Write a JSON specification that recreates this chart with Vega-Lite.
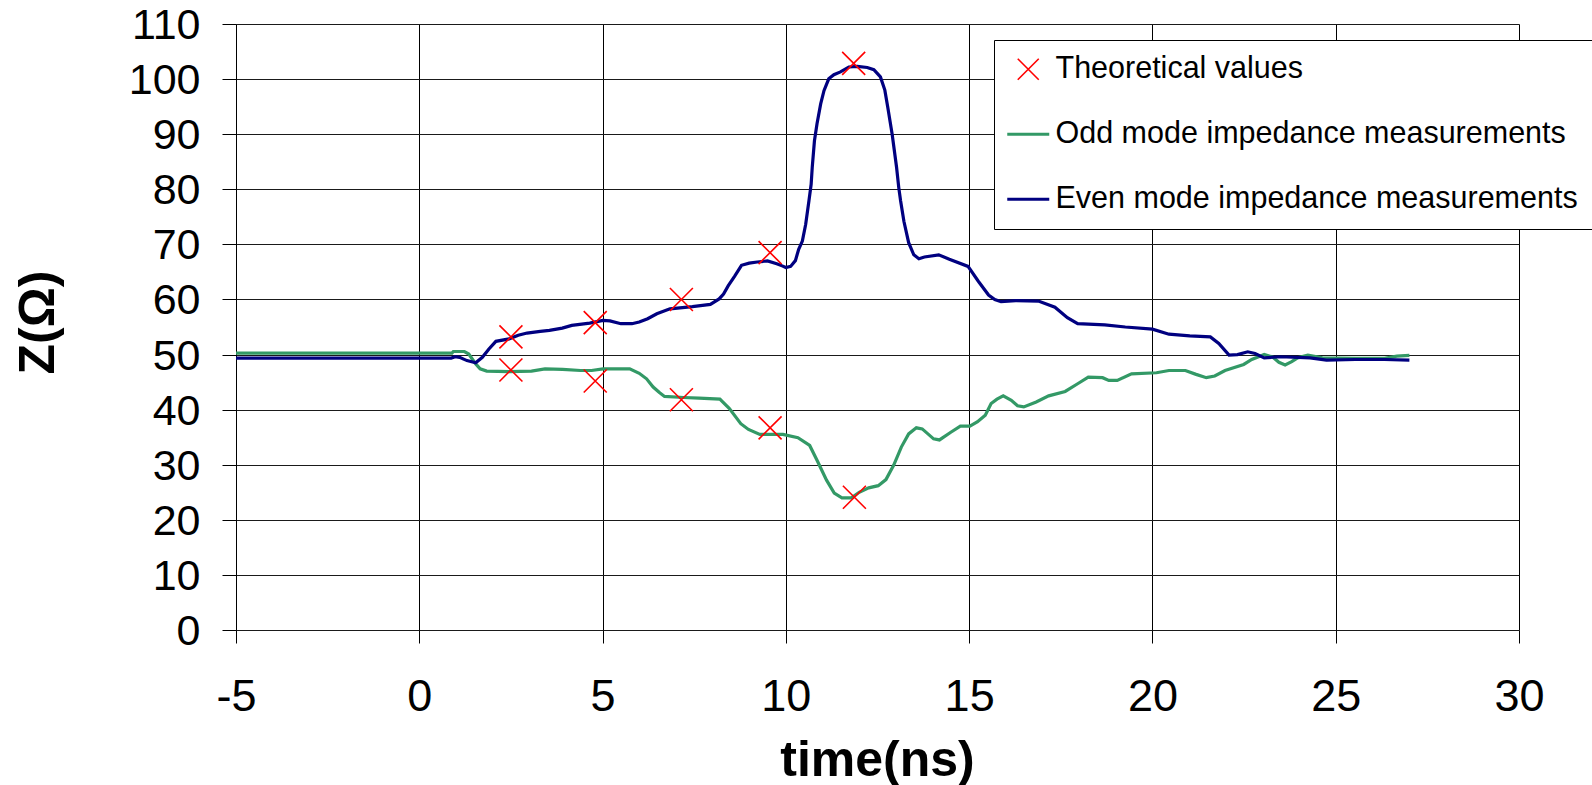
{
  "$schema": "https://vega.github.io/schema/vega-lite/v6.json",
  "autosize": "none",
  "width": 1283,
  "height": 606,
  "padding": {"left": 236, "top": 24, "right": 73, "bottom": 155},
  "background": "#ffffff",
  "config": {
    "view": {"stroke": null},
    "font": "Liberation Sans",
    "axis": {"labelFont": "Liberation Sans", "titleFont": "Liberation Sans"}
  },
  "datasets": {
    "measured": [
      {"series": "Odd mode impedance measurements", "t": -5, "z": 50.25},
      {"series": "Odd mode impedance measurements", "t": 0.89, "z": 50.25},
      {"series": "Odd mode impedance measurements", "t": 0.93, "z": 50.55},
      {"series": "Odd mode impedance measurements", "t": 1.23, "z": 50.55},
      {"series": "Odd mode impedance measurements", "t": 1.35, "z": 50.1},
      {"series": "Odd mode impedance measurements", "t": 1.54, "z": 48.3},
      {"series": "Odd mode impedance measurements", "t": 1.66, "z": 47.4},
      {"series": "Odd mode impedance measurements", "t": 1.84, "z": 47.0},
      {"series": "Odd mode impedance measurements", "t": 2.45, "z": 46.9},
      {"series": "Odd mode impedance measurements", "t": 3.06, "z": 47.0},
      {"series": "Odd mode impedance measurements", "t": 3.43, "z": 47.4},
      {"series": "Odd mode impedance measurements", "t": 3.91, "z": 47.3},
      {"series": "Odd mode impedance measurements", "t": 4.4, "z": 47.1},
      {"series": "Odd mode impedance measurements", "t": 4.7, "z": 47.1},
      {"series": "Odd mode impedance measurements", "t": 5.01, "z": 47.4},
      {"series": "Odd mode impedance measurements", "t": 5.74, "z": 47.4},
      {"series": "Odd mode impedance measurements", "t": 6.0, "z": 46.6},
      {"series": "Odd mode impedance measurements", "t": 6.2, "z": 45.6},
      {"series": "Odd mode impedance measurements", "t": 6.38, "z": 44.1},
      {"series": "Odd mode impedance measurements", "t": 6.55, "z": 43.1},
      {"series": "Odd mode impedance measurements", "t": 6.69, "z": 42.4},
      {"series": "Odd mode impedance measurements", "t": 7.21, "z": 42.2},
      {"series": "Odd mode impedance measurements", "t": 7.63, "z": 42.1},
      {"series": "Odd mode impedance measurements", "t": 8.2, "z": 41.9},
      {"series": "Odd mode impedance measurements", "t": 8.46, "z": 40.2},
      {"series": "Odd mode impedance measurements", "t": 8.77, "z": 37.45},
      {"series": "Odd mode impedance measurements", "t": 8.98, "z": 36.4},
      {"series": "Odd mode impedance measurements", "t": 9.29, "z": 35.5},
      {"series": "Odd mode impedance measurements", "t": 9.92, "z": 35.5},
      {"series": "Odd mode impedance measurements", "t": 10.33, "z": 34.9},
      {"series": "Odd mode impedance measurements", "t": 10.65, "z": 33.5},
      {"series": "Odd mode impedance measurements", "t": 10.85, "z": 30.8},
      {"series": "Odd mode impedance measurements", "t": 11.11, "z": 27.2},
      {"series": "Odd mode impedance measurements", "t": 11.32, "z": 24.85},
      {"series": "Odd mode impedance measurements", "t": 11.53, "z": 24.0},
      {"series": "Odd mode impedance measurements", "t": 11.79, "z": 24.0},
      {"series": "Odd mode impedance measurements", "t": 12.0, "z": 25.0},
      {"series": "Odd mode impedance measurements", "t": 12.26, "z": 25.8},
      {"series": "Odd mode impedance measurements", "t": 12.52, "z": 26.2},
      {"series": "Odd mode impedance measurements", "t": 12.73, "z": 27.3},
      {"series": "Odd mode impedance measurements", "t": 12.94, "z": 29.9},
      {"series": "Odd mode impedance measurements", "t": 13.15, "z": 33.2},
      {"series": "Odd mode impedance measurements", "t": 13.35, "z": 35.6},
      {"series": "Odd mode impedance measurements", "t": 13.56, "z": 36.7},
      {"series": "Odd mode impedance measurements", "t": 13.72, "z": 36.5},
      {"series": "Odd mode impedance measurements", "t": 14.03, "z": 34.7},
      {"series": "Odd mode impedance measurements", "t": 14.19, "z": 34.5},
      {"series": "Odd mode impedance measurements", "t": 14.5, "z": 35.9},
      {"series": "Odd mode impedance measurements", "t": 14.76, "z": 37.0},
      {"series": "Odd mode impedance measurements", "t": 15.02, "z": 37.0},
      {"series": "Odd mode impedance measurements", "t": 15.23, "z": 37.8},
      {"series": "Odd mode impedance measurements", "t": 15.44, "z": 39.0},
      {"series": "Odd mode impedance measurements", "t": 15.6, "z": 41.1},
      {"series": "Odd mode impedance measurements", "t": 15.76, "z": 41.9},
      {"series": "Odd mode impedance measurements", "t": 15.93, "z": 42.5},
      {"series": "Odd mode impedance measurements", "t": 16.15, "z": 41.7},
      {"series": "Odd mode impedance measurements", "t": 16.32, "z": 40.7},
      {"series": "Odd mode impedance measurements", "t": 16.49, "z": 40.5},
      {"series": "Odd mode impedance measurements", "t": 16.83, "z": 41.4},
      {"series": "Odd mode impedance measurements", "t": 17.17, "z": 42.5},
      {"series": "Odd mode impedance measurements", "t": 17.62, "z": 43.3},
      {"series": "Odd mode impedance measurements", "t": 17.96, "z": 44.7},
      {"series": "Odd mode impedance measurements", "t": 18.25, "z": 45.9},
      {"series": "Odd mode impedance measurements", "t": 18.64, "z": 45.8},
      {"series": "Odd mode impedance measurements", "t": 18.81, "z": 45.3},
      {"series": "Odd mode impedance measurements", "t": 19.04, "z": 45.3},
      {"series": "Odd mode impedance measurements", "t": 19.43, "z": 46.5},
      {"series": "Odd mode impedance measurements", "t": 20.11, "z": 46.7},
      {"series": "Odd mode impedance measurements", "t": 20.45, "z": 47.1},
      {"series": "Odd mode impedance measurements", "t": 20.9, "z": 47.1},
      {"series": "Odd mode impedance measurements", "t": 21.19, "z": 46.4},
      {"series": "Odd mode impedance measurements", "t": 21.47, "z": 45.8},
      {"series": "Odd mode impedance measurements", "t": 21.7, "z": 46.1},
      {"series": "Odd mode impedance measurements", "t": 21.98, "z": 47.1},
      {"series": "Odd mode impedance measurements", "t": 22.49, "z": 48.2},
      {"series": "Odd mode impedance measurements", "t": 22.71, "z": 49.1},
      {"series": "Odd mode impedance measurements", "t": 23.05, "z": 50.0},
      {"series": "Odd mode impedance measurements", "t": 23.28, "z": 49.55},
      {"series": "Odd mode impedance measurements", "t": 23.45, "z": 48.6},
      {"series": "Odd mode impedance measurements", "t": 23.62, "z": 48.1},
      {"series": "Odd mode impedance measurements", "t": 23.8, "z": 48.7},
      {"series": "Odd mode impedance measurements", "t": 23.96, "z": 49.4},
      {"series": "Odd mode impedance measurements", "t": 24.24, "z": 49.9},
      {"series": "Odd mode impedance measurements", "t": 24.64, "z": 49.4},
      {"series": "Odd mode impedance measurements", "t": 25.54, "z": 49.3},
      {"series": "Odd mode impedance measurements", "t": 26.33, "z": 49.3},
      {"series": "Odd mode impedance measurements", "t": 26.67, "z": 49.7},
      {"series": "Odd mode impedance measurements", "t": 27.01, "z": 49.85},
      {"series": "Even mode impedance measurements", "t": -5, "z": 49.35},
      {"series": "Even mode impedance measurements", "t": 0.87, "z": 49.35},
      {"series": "Even mode impedance measurements", "t": 0.98, "z": 49.6},
      {"series": "Even mode impedance measurements", "t": 1.1, "z": 49.5},
      {"series": "Even mode impedance measurements", "t": 1.3, "z": 48.9},
      {"series": "Even mode impedance measurements", "t": 1.54, "z": 48.5},
      {"series": "Even mode impedance measurements", "t": 1.72, "z": 49.5},
      {"series": "Even mode impedance measurements", "t": 1.9, "z": 51.0},
      {"series": "Even mode impedance measurements", "t": 2.09, "z": 52.4},
      {"series": "Even mode impedance measurements", "t": 2.45, "z": 52.85},
      {"series": "Even mode impedance measurements", "t": 2.7, "z": 53.5},
      {"series": "Even mode impedance measurements", "t": 2.94, "z": 53.9},
      {"series": "Even mode impedance measurements", "t": 3.3, "z": 54.2},
      {"series": "Even mode impedance measurements", "t": 3.55, "z": 54.4},
      {"series": "Even mode impedance measurements", "t": 3.9, "z": 54.8},
      {"series": "Even mode impedance measurements", "t": 4.16, "z": 55.3},
      {"series": "Even mode impedance measurements", "t": 4.65, "z": 55.7},
      {"series": "Even mode impedance measurements", "t": 5.01, "z": 56.2},
      {"series": "Even mode impedance measurements", "t": 5.2, "z": 56.1},
      {"series": "Even mode impedance measurements", "t": 5.5, "z": 55.6},
      {"series": "Even mode impedance measurements", "t": 5.8, "z": 55.6},
      {"series": "Even mode impedance measurements", "t": 6.0, "z": 55.9},
      {"series": "Even mode impedance measurements", "t": 6.23, "z": 56.5},
      {"series": "Even mode impedance measurements", "t": 6.48, "z": 57.4},
      {"series": "Even mode impedance measurements", "t": 6.84, "z": 58.3},
      {"series": "Even mode impedance measurements", "t": 7.45, "z": 58.7},
      {"series": "Even mode impedance measurements", "t": 7.94, "z": 59.1},
      {"series": "Even mode impedance measurements", "t": 8.18, "z": 60.1},
      {"series": "Even mode impedance measurements", "t": 8.3, "z": 61.0},
      {"series": "Even mode impedance measurements", "t": 8.43, "z": 62.5},
      {"series": "Even mode impedance measurements", "t": 8.6, "z": 64.2},
      {"series": "Even mode impedance measurements", "t": 8.79, "z": 66.2},
      {"series": "Even mode impedance measurements", "t": 9.0, "z": 66.6},
      {"series": "Even mode impedance measurements", "t": 9.22, "z": 66.8},
      {"series": "Even mode impedance measurements", "t": 9.5, "z": 67.0},
      {"series": "Even mode impedance measurements", "t": 9.75, "z": 66.5},
      {"series": "Even mode impedance measurements", "t": 9.9, "z": 66.1},
      {"series": "Even mode impedance measurements", "t": 10.0, "z": 65.8},
      {"series": "Even mode impedance measurements", "t": 10.13, "z": 66.0},
      {"series": "Even mode impedance measurements", "t": 10.26, "z": 67.05},
      {"series": "Even mode impedance measurements", "t": 10.35, "z": 69.1},
      {"series": "Even mode impedance measurements", "t": 10.45, "z": 70.6},
      {"series": "Even mode impedance measurements", "t": 10.54, "z": 73.6},
      {"series": "Even mode impedance measurements", "t": 10.63, "z": 77.9},
      {"series": "Even mode impedance measurements", "t": 10.69, "z": 80.9},
      {"series": "Even mode impedance measurements", "t": 10.72, "z": 84.0},
      {"series": "Even mode impedance measurements", "t": 10.78, "z": 88.8},
      {"series": "Even mode impedance measurements", "t": 10.85, "z": 91.9},
      {"series": "Even mode impedance measurements", "t": 10.95, "z": 95.5},
      {"series": "Even mode impedance measurements", "t": 11.04, "z": 97.9},
      {"series": "Even mode impedance measurements", "t": 11.17, "z": 100.05},
      {"series": "Even mode impedance measurements", "t": 11.31, "z": 100.8},
      {"series": "Even mode impedance measurements", "t": 11.49, "z": 101.3},
      {"series": "Even mode impedance measurements", "t": 11.72, "z": 102.2},
      {"series": "Even mode impedance measurements", "t": 11.95, "z": 102.3},
      {"series": "Even mode impedance measurements", "t": 12.22, "z": 102.1},
      {"series": "Even mode impedance measurements", "t": 12.4, "z": 101.7},
      {"series": "Even mode impedance measurements", "t": 12.58, "z": 100.4},
      {"series": "Even mode impedance measurements", "t": 12.7, "z": 98.0},
      {"series": "Even mode impedance measurements", "t": 12.78, "z": 94.9},
      {"series": "Even mode impedance measurements", "t": 12.9, "z": 90.0},
      {"series": "Even mode impedance measurements", "t": 13.02, "z": 84.0},
      {"series": "Even mode impedance measurements", "t": 13.08, "z": 80.3},
      {"series": "Even mode impedance measurements", "t": 13.13, "z": 77.9},
      {"series": "Even mode impedance measurements", "t": 13.22, "z": 74.2},
      {"series": "Even mode impedance measurements", "t": 13.35, "z": 70.3},
      {"series": "Even mode impedance measurements", "t": 13.49, "z": 68.1},
      {"series": "Even mode impedance measurements", "t": 13.63, "z": 67.4},
      {"series": "Even mode impedance measurements", "t": 13.78, "z": 67.7},
      {"series": "Even mode impedance measurements", "t": 14.17, "z": 68.1},
      {"series": "Even mode impedance measurements", "t": 14.46, "z": 67.3},
      {"series": "Even mode impedance measurements", "t": 14.97, "z": 66.0},
      {"series": "Even mode impedance measurements", "t": 15.25, "z": 63.3},
      {"series": "Even mode impedance measurements", "t": 15.53, "z": 60.8},
      {"series": "Even mode impedance measurements", "t": 15.7, "z": 60.0},
      {"series": "Even mode impedance measurements", "t": 15.87, "z": 59.6},
      {"series": "Even mode impedance measurements", "t": 16.27, "z": 59.8},
      {"series": "Even mode impedance measurements", "t": 16.89, "z": 59.7},
      {"series": "Even mode impedance measurements", "t": 17.34, "z": 58.6},
      {"series": "Even mode impedance measurements", "t": 17.68, "z": 56.7},
      {"series": "Even mode impedance measurements", "t": 17.96, "z": 55.6},
      {"series": "Even mode impedance measurements", "t": 18.7, "z": 55.4},
      {"series": "Even mode impedance measurements", "t": 19.26, "z": 55.0},
      {"series": "Even mode impedance measurements", "t": 20.0, "z": 54.6},
      {"series": "Even mode impedance measurements", "t": 20.45, "z": 53.7},
      {"series": "Even mode impedance measurements", "t": 21.02, "z": 53.4},
      {"series": "Even mode impedance measurements", "t": 21.58, "z": 53.2},
      {"series": "Even mode impedance measurements", "t": 21.81, "z": 52.0},
      {"series": "Even mode impedance measurements", "t": 22.09, "z": 49.9},
      {"series": "Even mode impedance measurements", "t": 22.32, "z": 50.0},
      {"series": "Even mode impedance measurements", "t": 22.6, "z": 50.5},
      {"series": "Even mode impedance measurements", "t": 22.8, "z": 50.2},
      {"series": "Even mode impedance measurements", "t": 23.05, "z": 49.4},
      {"series": "Even mode impedance measurements", "t": 23.5, "z": 49.6},
      {"series": "Even mode impedance measurements", "t": 24.3, "z": 49.4},
      {"series": "Even mode impedance measurements", "t": 24.75, "z": 49.0},
      {"series": "Even mode impedance measurements", "t": 25.54, "z": 49.1},
      {"series": "Even mode impedance measurements", "t": 26.33, "z": 49.1},
      {"series": "Even mode impedance measurements", "t": 27.01, "z": 49.0}
    ],
    "theory": [
      {"series": "Theoretical values", "t": 2.5, "z": 53.2},
      {"series": "Theoretical values", "t": 2.5, "z": 47.2},
      {"series": "Theoretical values", "t": 4.8, "z": 55.8},
      {"series": "Theoretical values", "t": 4.8, "z": 45.2},
      {"series": "Theoretical values", "t": 7.15, "z": 60.0},
      {"series": "Theoretical values", "t": 7.15, "z": 41.8},
      {"series": "Theoretical values", "t": 9.57, "z": 68.5},
      {"series": "Theoretical values", "t": 9.57, "z": 36.7},
      {"series": "Theoretical values", "t": 11.85, "z": 102.85},
      {"series": "Theoretical values", "t": 11.87, "z": 24.1}
    ]
  },
  "encoding": {
    "x": {
      "field": "t", "type": "quantitative",
      "scale": {"domain": [-5, 30], "nice": false, "zero": false},
      "axis": {
        "values": [-5, 0, 5, 10, 15, 20, 25, 30],
        "labelExpr": "datum.value < 0 ? '-' + abs(datum.value) : '' + datum.value",
        "title": "time(ns)",
        "grid": true, "gridColor": "#000000", "gridWidth": 1, "gridOpacity": 1,
        "domain": false,
        "ticks": true, "tickSize": 13, "tickColor": "#000000", "tickWidth": 1,
        "labelFontSize": 45, "labelColor": "#000000", "labelPadding": 31,
        "labelFlush": false, "labelOverlap": false,
        "titleFontSize": 50, "titleFontWeight": "bold", "titleColor": "#000000",
        "titleBaseline": "alphabetic", "titleY": 145, "titleX": 641
      }
    },
    "y": {
      "field": "z", "type": "quantitative",
      "scale": {"domain": [0, 110], "nice": false, "zero": false},
      "axis": {
        "values": [0, 10, 20, 30, 40, 50, 60, 70, 80, 90, 100, 110],
        "title": "Z(Ω)",
        "grid": true, "gridColor": "#1a1a1a", "gridWidth": 1, "gridOpacity": 1,
        "domain": true, "domainColor": "#000000", "domainWidth": 1,
        "ticks": true, "tickSize": 14, "tickColor": "#000000", "tickWidth": 1,
        "labelFontSize": 43, "labelColor": "#000000", "labelPadding": 22,
        "labelOffset": 1.5,
        "labelFlush": false, "labelOverlap": false,
        "titleFontSize": 50, "titleFontWeight": "bold", "titleColor": "#000000",
        "titleAngle": -90, "titleBaseline": "alphabetic", "titleAlign": "center",
        "titleX": -183, "titleY": 298
      }
    },
    "color": {
      "field": "series", "type": "nominal",
      "scale": {
        "domain": ["Theoretical values", "Odd mode impedance measurements", "Even mode impedance measurements"],
        "range": ["#ff0000", "#339966", "#000080"]
      },
      "legend": {
        "title": null,
        "orient": "none",
        "legendX": 758,
        "legendY": 16,
        "direction": "vertical",
        "padding": 14,
        "strokeColor": "#000000",
        "fillColor": "#ffffff",
        "symbolSize": 1764,
        "symbolOffset": 5,
        "labelOffset": 12,
        "rowPadding": 34,
        "labelFont": "Liberation Sans",
        "labelFontSize": 30.5,
        "labelColor": "#000000",
        "labelLimit": 800,
        "encode": {
          "symbols": {
            "update": {
              "shape": {"signal": "datum.value === 'Theoretical values' ? 'M-0.5,-0.5L0.5,0.5M0.5,-0.5L-0.5,0.5' : 'M-1,0L1,0'"},
              "stroke": {"signal": "datum.value === 'Theoretical values' ? '#ff0000' : (datum.value === 'Odd mode impedance measurements' ? '#339966' : '#000080')"},
              "strokeWidth": {"signal": "datum.value === 'Theoretical values' ? 1.6 : 3"},
              "fill": {"value": "transparent"},
              "opacity": {"value": 1}
            }
          }
        }
      }
    }
  },
  "layer": [
    {
      "data": {"name": "measured"},
      "mark": {"type": "line", "strokeWidth": 3.2, "interpolate": "linear", "clip": true}
    },
    {
      "data": {"name": "theory"},
      "mark": {
        "type": "point",
        "shape": "M-1,-1L1,1M1,-1L-1,1",
        "size": 529,
        "filled": false,
        "strokeWidth": 1.6,
        "opacity": 1
      }
    }
  ]
}
